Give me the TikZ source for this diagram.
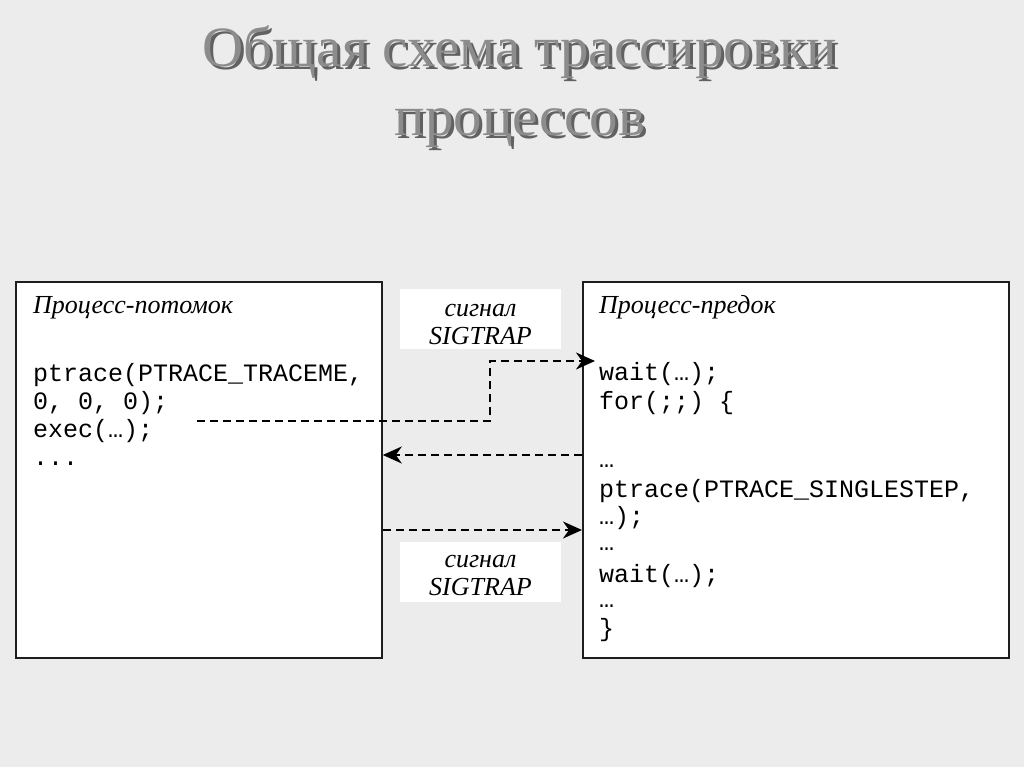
\documentclass[tikz,border=0pt]{standalone}
\usepackage{fontspec}
\setmainfont{Liberation Serif}
\setmonofont{Liberation Mono}
\usetikzlibrary{positioning, arrows.meta}

\definecolor{slidebg}{RGB}{236,236,236}
\definecolor{framecol}{RGB}{30,30,30}

\begin{document}
\begin{tikzpicture}[x=1pt, y=-1pt]
    % Define styles
    \tikzstyle{proc} = [draw=framecol, line width=1.8pt, fill=white, anchor=north west]
    \tikzstyle{caption} = [font=\fontsize{26}{28}\selectfont\itshape, anchor=base west, inner sep=0pt]
    \tikzstyle{code} = [font=\fontsize{25}{28}\selectfont\ttfamily, anchor=base west, inner sep=0pt]
    \tikzstyle{sigbox} = [fill=white, minimum width=161pt, minimum height=60pt]
    \tikzstyle{sigtext} = [align=center, font=\fontsize{26}{28}\selectfont\itshape]
    \tikzstyle{sig} = [line width=1.8pt, dash pattern=on 8pt off 5pt,
        -{Stealth[length=19pt, width=17pt, inset=6pt]}]
    \tikzstyle{headline} = [font=\fontsize{57}{69}\selectfont, anchor=base]

    % Background
    \fill[slidebg] (0,0) rectangle (1024,767);
    \useasboundingbox (0,0) rectangle (1024,767);

    % Title with shadow
    \def\ttl{Общая схема трассировки}
    \node[headline, black!62] (titleshadow) at (523,70) {\ttl};
    \node[headline, black!45] (title) at (520,67) {\ttl};
    \node[headline, black!62] (subshadow) at (523,139) {процессов};
    \node[headline, black!45] (subtitle) at (520,136) {процессов};

    % Draw process boxes
    \node[proc, minimum width=366pt, minimum height=376pt] (child) at (15,281) {};
    \node[proc, minimum width=426pt, minimum height=376pt] (parent) at (582,281) {};

    \node[caption] (childname) at (33,313) {Процесс-потомок};
    \node[caption] (parentname) at (599,313) {Процесс-предок};

    % Code of the child
    \foreach \y/\line [count=\i] in {381/{ptrace(PTRACE\_TRACEME,}, 409/{0, 0, 0);},
        437/{exec(…);}, 465/{...}} {
        \node[code] (c\i) at (33,\y) {\line};
    }

    % Code of the parent
    \foreach \y/\line [count=\i] in {380/{wait(…);}, 409/{for(;;) \{},
        467/{…}, 497/{ptrace(PTRACE\_SINGLESTEP,}, 524/{…);}, 550/{…},
        582/{wait(…);}, 607/{…}, 636/{\}}} {
        \node[code] (p\i) at (599,\y) {\line};
    }

    % Signal labels
    \node[sigbox] (sigA) at (480.5,319) {};
    \node[sigtext] (sigAtext) at ([yshift=-5pt]sigA.center) {сигнал\\SIGTRAP};
    \node[sigbox] (sigB) at (480.5,571.5) {};
    \node[sigtext] (sigBtext) at ([yshift=-4pt]sigB.center) {сигнал\\SIGTRAP};

    % Connectors
    \coordinate (trapA) at (197,421);
    \coordinate (waitA) at (595,361);
    \draw[sig] (trapA) -- (490,421) |- (waitA);
    \draw[sig] (parent.west |- 0,455) -- (child.east |- 0,455);
    \draw[sig] (child.east |- 0,530) -- (parent.west |- 0,530);
\end{tikzpicture}
\end{document}
